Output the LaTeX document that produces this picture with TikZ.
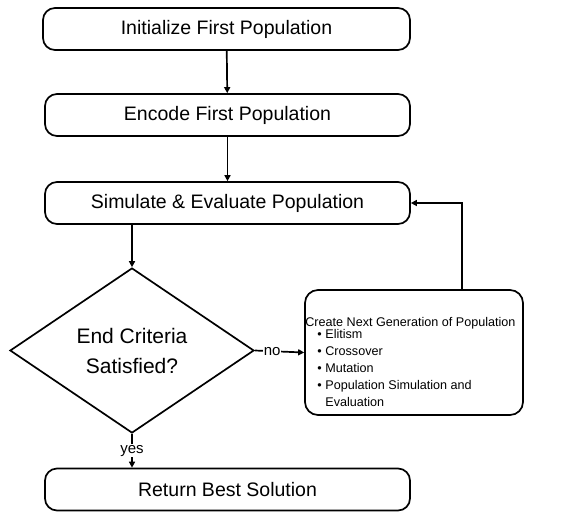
\documentclass[tikz,border=0pt]{standalone}
\usepackage{fontspec}
\setmainfont{Liberation Sans}
\usetikzlibrary{shapes.geometric,arrows.meta}
\tikzset{
  stepbox/.style={draw, line width=1.7pt, rounded corners=12pt, minimum width=365pt, minimum height=42pt, inner sep=0pt, font=\fontsize{19.5}{23}\selectfont},
  decision/.style={draw, diamond, line width=1.7pt, minimum width=244pt, minimum height=165pt, inner sep=0pt, align=center, font=\fontsize{21}{30}\selectfont},
  genbox/.style={draw, line width=1.7pt, rounded corners=13pt, minimum width=218pt, minimum height=125pt, inner sep=0pt},
  flow/.style={line width=1.7pt, -{Triangle[length=6pt,width=6pt]}},
  tag/.style={fill=white, inner sep=1pt, font=\fontsize{15}{17}\selectfont}
}
\begin{document}
\begin{tikzpicture}[x=1pt,y=-1pt]
                         \useasboundingbox (0,0) rectangle (577,512);
                         % Nodes
                         \node[stepbox, minimum width=367pt] (init) at (226.5,29) {Initialize First Population};
                         \node[stepbox] (enc) at (227.5,115) {Encode First Population};
                         \node[stepbox] (sim) at (227.5,203) {Simulate \& Evaluate Population};
                         \node[decision] (crit) at (132,350.5) {End Criteria\\Satisfied?};
                         \node[genbox] (nextgen) at (414,352.5) {};
                         \node[anchor=west, align=left, inner sep=1pt, font=\fontsize{12.6}{17}\selectfont] (nextgentext) at ([yshift=-9]nextgen.west) {Create Next Generation of Population\\[-5pt]
                           \hspace{12pt}\textbullet\hspace{3.6pt}Elitism\\
                           \hspace{12pt}\textbullet\hspace{3.6pt}Crossover\\
                           \hspace{12pt}\textbullet\hspace{3.6pt}Mutation\\
                           \hspace{12pt}\textbullet\hspace{3.6pt}Population Simulation and\\
                           \hspace{20pt}Evaluation};
                         \node[stepbox] (ret) at (227.5,489.5) {Return Best Solution};
                         \coordinate (loop) at ([xshift=48pt]nextgen.north);
                         
                         % Arrows
                         \draw[flow] (init) -- (enc);
                         \draw[flow] (enc) -- (sim);
                         \draw[flow] (sim.south -| crit.north) -- (crit.north);
                         \draw[flow] (crit.east) -- node[tag, pos=0.35] {no} (nextgen.west);
                         \draw[flow] (loop) |- (sim.east);
                         \draw[flow] (crit.south) -- node[tag] {yes} (crit.south |- ret.north);
                    \end{tikzpicture}
\end{document}
